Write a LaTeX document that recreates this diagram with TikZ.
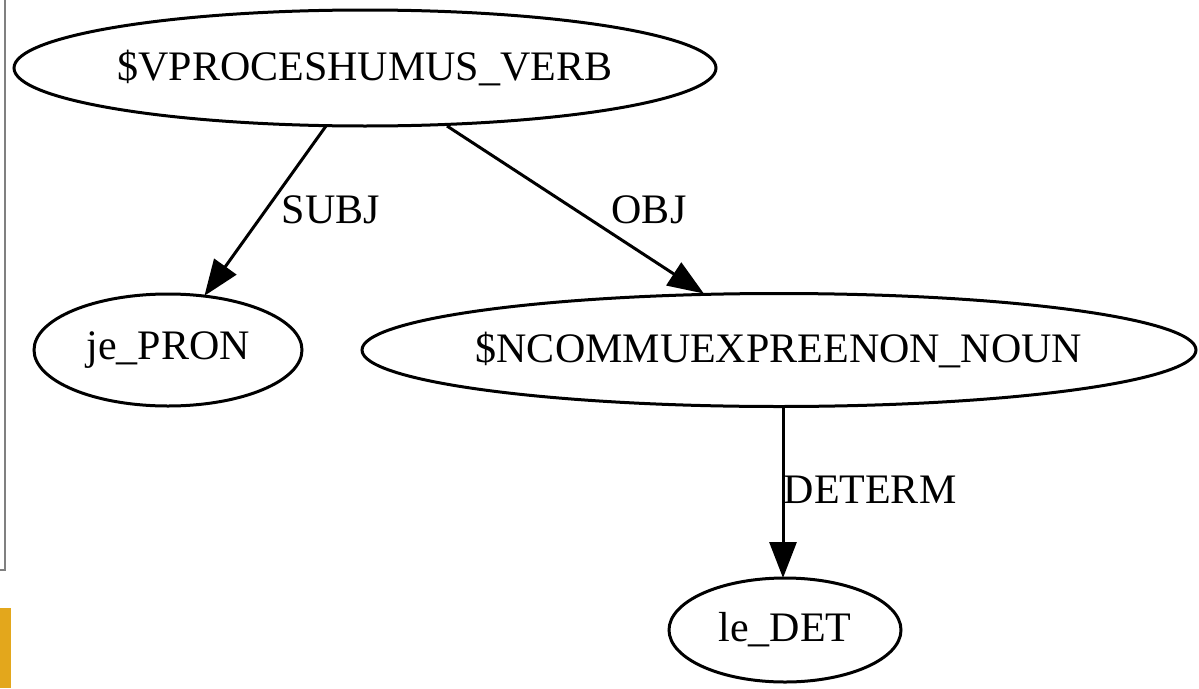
\documentclass[tikz,border=0pt]{standalone}
\usepackage{fontspec}
\setmainfont{Liberation Serif}
\usetikzlibrary{arrows.meta,shapes.geometric}
\begin{document}
\begin{tikzpicture}[x=1pt,y=-1pt,
  nd/.style={draw, line width=3pt, ellipse, inner sep=0pt, label={[font=\fontsize{42}{46}\selectfont, inner sep=0pt]center:#1}},
  ed/.style={line width=3pt, -{Triangle[length=36pt,width=27pt]}, shorten >=-1pt},
  lbl/.style={font=\fontsize{42}{46}\selectfont, inner sep=0pt}]
\useasboundingbox (0,0) rectangle (1199,688);
\draw[line width=2.2pt, color=black!50] (5,0) -- (5,570) -- (0,570);
\fill[color={rgb,255:red,227;green,167;blue,28}] (0,608) rectangle (11,688);
\node[nd={\$VPROCESHUMUS\_VERB}, minimum width=702pt, minimum height=116pt] (v) at (365,68) {};
\node[nd={je\_PRON}, minimum width=268pt, minimum height=112pt] (p) at (168,350) {};
\node[nd={\$NCOMMUEXPREENON\_NOUN}, minimum width=834pt, minimum height=113pt] (n) at (779,350) {};
\node[nd={le\_DET}, minimum width=232pt, minimum height=104pt] (d) at (785,630) {};
\coordinate (s1) at (326,126);
\coordinate (s2) at (205,295);
\coordinate (o1) at (447,126);
\coordinate (o2) at (703,293);
\coordinate (t1) at (783,407);
\coordinate (t2) at (783,577);
\draw[ed] (s1) -- (s2);
\draw[ed] (o1) -- (o2);
\draw[ed] (t1) -- (t2);
\node[lbl] (ls) at (331,210) {SUBJ};
\node[lbl] (lo) at (649,210) {OBJ};
\node[lbl] (ld) at (870,490) {DETERM};
\end{tikzpicture}
\end{document}
